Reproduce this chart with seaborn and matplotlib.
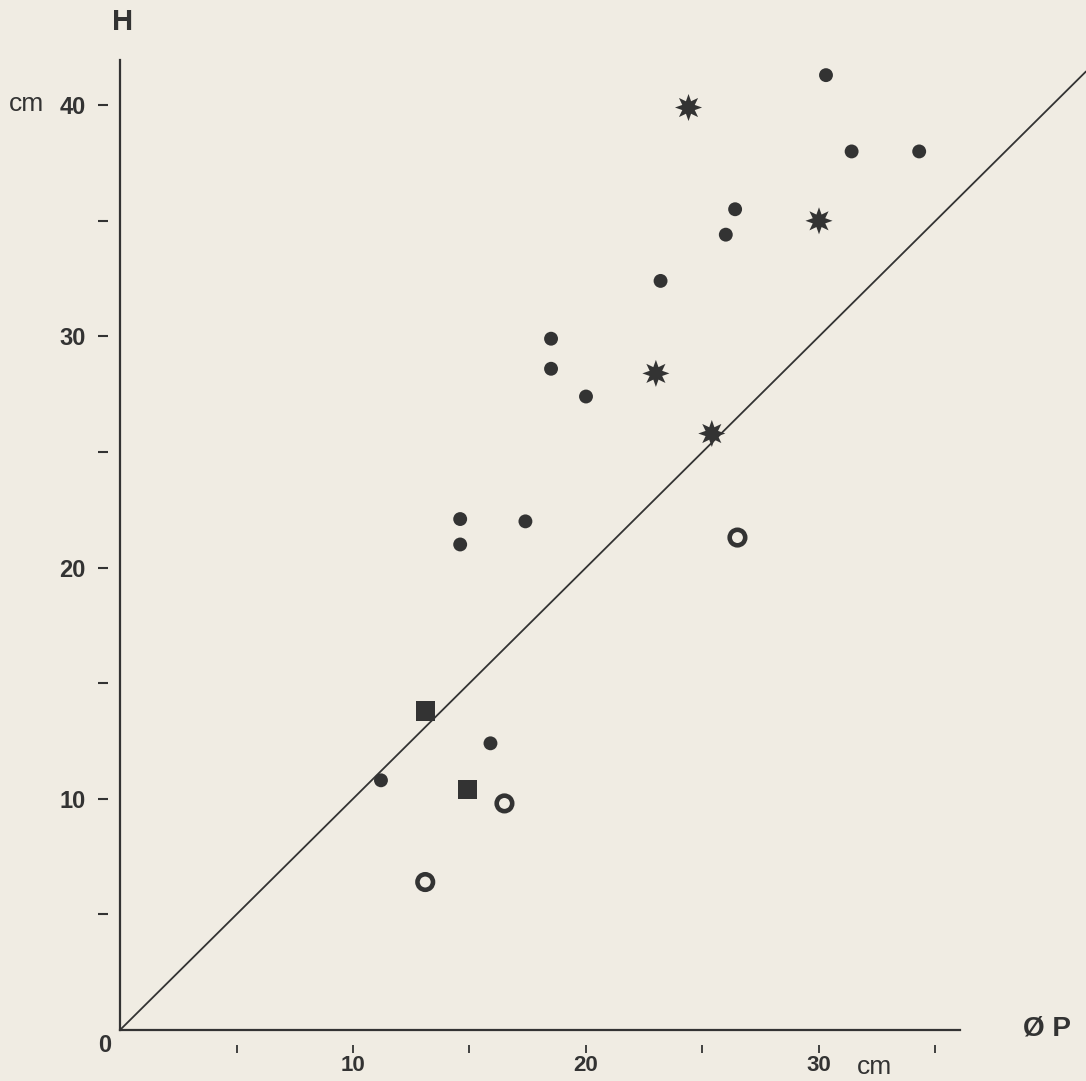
import numpy as np
import pandas as pd
import matplotlib
matplotlib.use("Agg")
import matplotlib.pyplot as plt
import seaborn as sns

# Measured values (diameter P vs height H, cm)
dot_p = [30.3, 31.4, 34.3, 26.4, 26.0, 23.2, 18.5, 18.5, 20.0, 14.6, 14.6, 17.4, 15.9, 11.2]
dot_h = [41.3, 38.0, 38.0, 35.5, 34.4, 32.4, 29.9, 28.6, 27.4, 22.1, 21.0, 22.0, 12.4, 10.8]
star_p = [24.4, 30.0, 23.0, 25.4]
star_h = [39.9, 35.0, 28.4, 25.8]
ring_p = [26.5, 16.5, 13.1]
ring_h = [21.3, 9.8, 6.4]
square_p = [13.1, 14.9]
square_h = [13.8, 10.4]

x_ticks = [5, 10, 15, 20, 25, 30, 35]
x_labels = ["", "10", "", "20", "", "30", ""]
y_ticks = [5, 10, 15, 20, 25, 30, 35, 40]
y_labels = ["", "10", "", "20", "", "30", "", "40"]

bg = "#f0ece3"
ink = "#333333"

df = pd.concat([
    pd.DataFrame({"P": dot_p, "H": dot_h, "kind": "dot"}),
    pd.DataFrame({"P": star_p, "H": star_h, "kind": "star"}),
    pd.DataFrame({"P": ring_p, "H": ring_h, "kind": "ring"}),
    pd.DataFrame({"P": square_p, "H": square_h, "kind": "square"}),
], ignore_index=True)

sns.set_style("white")
plt.rcParams["font.family"] = ["Liberation Sans", "DejaVu Sans"]

fig = plt.figure(figsize=(10.86, 10.81), dpi=100, facecolor=bg)
ax = fig.add_axes([120 / 1086, 51 / 1081, 966 / 1086, 970 / 1081])
ax.set_facecolor(bg)
ax.set_xlim(0, 966 / 23.3)
ax.set_ylim(0, 970 / 23.12)

# 1:1 reference line
ax.axline((0, 0), slope=1, color=ink, lw=1.3, zorder=1)

sns.scatterplot(data=df[df.kind == "dot"], x="P", y="H", ax=ax, marker="o",
                s=100, color=ink, edgecolor="none", zorder=3, legend=False)
sns.scatterplot(data=df[df.kind == "star"], x="P", y="H", ax=ax, marker=(8, 1, 0),
                s=380, color=ink, edgecolor="none", zorder=3, legend=False)
sns.scatterplot(data=df[df.kind == "square"], x="P", y="H", ax=ax, marker="s",
                s=190, color=ink, edgecolor="none", zorder=3, legend=False)
ax.scatter(df[df.kind == "ring"]["P"], df[df.kind == "ring"]["H"], marker="o",
           s=125, facecolor="none", edgecolor=ink, linewidths=3.3, zorder=3)

# spines
for side in ["top", "right"]:
    ax.spines[side].set_visible(False)
for side in ["left", "bottom"]:
    ax.spines[side].set_color(ink)
    ax.spines[side].set_linewidth(1.6)
ax.spines["bottom"].set_bounds(0, 36.05)
ax.spines["left"].set_bounds(0, 970 / 23.12)
ax.set_xticks([])
ax.set_yticks([])
ax.set_xlabel("")
ax.set_ylabel("")

# detached tick marks
secx = ax.secondary_xaxis(-23 / 970)
secx.set_xticks(x_ticks)
secx.set_xticklabels(x_labels)
secx.spines["bottom"].set_visible(False)
secx.tick_params(direction="in", length=6, width=1.3, color=ink, pad=1.5,
                 labelsize=16, labelcolor=ink)
for t in secx.get_xticklabels():
    t.set_fontweight("bold")

secy = ax.secondary_yaxis(-22 / 966)
secy.set_yticks(y_ticks)
secy.set_yticklabels(y_labels)
secy.spines["left"].set_visible(False)
secy.tick_params(direction="in", length=7, width=1.5, color=ink, pad=9,
                 labelsize=17, labelcolor=ink)
for t in secy.get_yticklabels():
    t.set_fontweight("bold")

# annotations
fig.text(123 / 1086, 1 - 22 / 1081, "H", fontsize=21, fontweight="bold",
         color=ink, ha="center", va="center")
fig.text(26 / 1086, 1 - 104 / 1081, "cm", fontsize=19, color=ink,
         ha="center", va="center")
fig.text(105 / 1086, 1 - 1046 / 1081, "0", fontsize=17, fontweight="bold",
         color=ink, ha="center", va="center")
fig.text(875 / 1086, 1 - 1067 / 1081, "cm", fontsize=19, color=ink,
         ha="center", va="center")
fig.text(1047 / 1086, 1 - 1028 / 1081, "Ø P", fontsize=20, fontweight="bold",
         color=ink, ha="center", va="center")

fig.savefig("out.png", dpi=100, facecolor=bg)
